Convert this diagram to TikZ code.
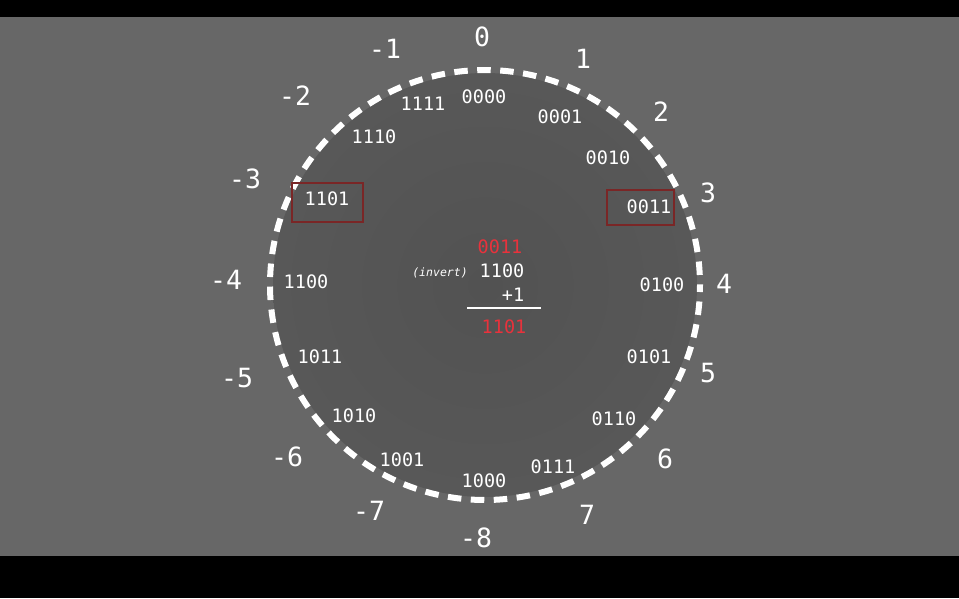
\documentclass[tikz,border=0pt]{standalone}
\usepackage{fontspec}
\setmonofont{DejaVu Sans Mono}
\usetikzlibrary{backgrounds}
\definecolor{backgray}{HTML}{676767}
\definecolor{diskin}{HTML}{525252}
\definecolor{diskout}{HTML}{585858}
\definecolor{bitred}{HTML}{E8323C}
\definecolor{boxred}{HTML}{7A2626}
\tikzstyle{decimal}=[
	text=white,
	inner sep=0,
	font=\fontsize{26.5}{26.5}\selectfont\ttfamily]
\tikzstyle{binary}=[
	text=white,
	inner sep=0,
	font=\fontsize{18.5}{18.5}\selectfont\ttfamily]
\tikzstyle{sum}=[
	inner sep=0,
	font=\fontsize{18.5}{18.5}\selectfont\ttfamily]
\tikzstyle{markbox}=[
	draw=boxred,
	line width=1.3,
	rectangle]

\begin{document}
\begin{tikzpicture}[x=1pt,y=-1pt]
	\useasboundingbox (0,0) rectangle (959,598);
	\begin{scope}[on background layer]
		\fill[black] (0,0) rectangle (959,17);
		\fill[backgray] (0,17) rectangle (959,556);
		\fill[black] (0,556) rectangle (959,598);
	\end{scope}
	\begin{scope}
		\coordinate (centre) at (485,285);
		\shade[inner color=diskin,outer color=diskout] (centre) circle (212);
		\draw[white,line width=6,dash pattern=on 13.5 off 9.5,dash phase=6.5] (centre) circle (215);
	\end{scope}
	\begin{scope}
		\node[decimal]	(pos0)	at (482,37)	{0};
		\node[decimal]	(pos1)	at (583,59)	{1};
		\node[decimal]	(pos2)	at (661,112)	{2};
		\node[decimal]	(pos3)	at (708,193)	{3};
		\node[decimal]	(pos4)	at (724,284)	{4};
		\node[decimal]	(pos5)	at (708,373)	{5};
		\node[decimal]	(pos6)	at (665,459)	{6};
		\node[decimal]	(pos7)	at (587,515)	{7};
		\node[decimal]	(neg8)	at (476,538)	{-8};
		\node[decimal]	(neg7)	at (369,511)	{-7};
		\node[decimal]	(neg6)	at (287,457)	{-6};
		\node[decimal]	(neg5)	at (237,378)	{-5};
		\node[decimal]	(neg4)	at (226,280)	{-4};
		\node[decimal]	(neg3)	at (245,179)	{-3};
		\node[decimal]	(neg2)	at (295,96)	{-2};
		\node[decimal]	(neg1)	at (385,49)	{-1};
	\end{scope}
	\begin{scope}
		\node[binary]	(b0000)	at (484,97)	{0000};
		\node[binary]	(b0001)	at (560,117)	{0001};
		\node[binary]	(b0010)	at (608,158)	{0010};
		\node[binary]	(b0011)	at (649,207)	{0011};
		\node[binary]	(b0100)	at (662,285)	{0100};
		\node[binary]	(b0101)	at (649,357)	{0101};
		\node[binary]	(b0110)	at (614,419)	{0110};
		\node[binary]	(b0111)	at (553,467)	{0111};
		\node[binary]	(b1000)	at (484,481)	{1000};
		\node[binary]	(b1001)	at (402,460)	{1001};
		\node[binary]	(b1010)	at (354,416)	{1010};
		\node[binary]	(b1011)	at (320,357)	{1011};
		\node[binary]	(b1100)	at (306,282)	{1100};
		\node[binary]	(b1101)	at (327,199)	{1101};
		\node[binary]	(b1110)	at (374,137)	{1110};
		\node[binary]	(b1111)	at (423,104)	{1111};
		\node[markbox,minimum width=67,minimum height=35] (box0011) at (640.5,207.5) {};
		\node[markbox,minimum width=71,minimum height=39] (box1101) at (327.5,202.5) {};
	\end{scope}
	\begin{scope}
		\node[sum,text=bitred]	(plain)	at (500,247)	{0011};
		\node[sum,text=white]	(flip)	at (502,271)	{1100};
		\node[text=white,inner sep=0,font=\fontsize{11.5}{11.5}\selectfont\ttfamily\itshape] (invert) at (440,273) {(invert)};
		\node[sum,text=white]	(plusone)	at (513,295)	{+1};
		\coordinate (sumL) at (467,308);
		\coordinate (sumR) at (541,308);
		\draw[white,line width=1.5] (sumL) -- (sumR);
		\node[sum,text=bitred]	(result)	at (504,327)	{1101};
	\end{scope}
\end{tikzpicture}
\end{document}
